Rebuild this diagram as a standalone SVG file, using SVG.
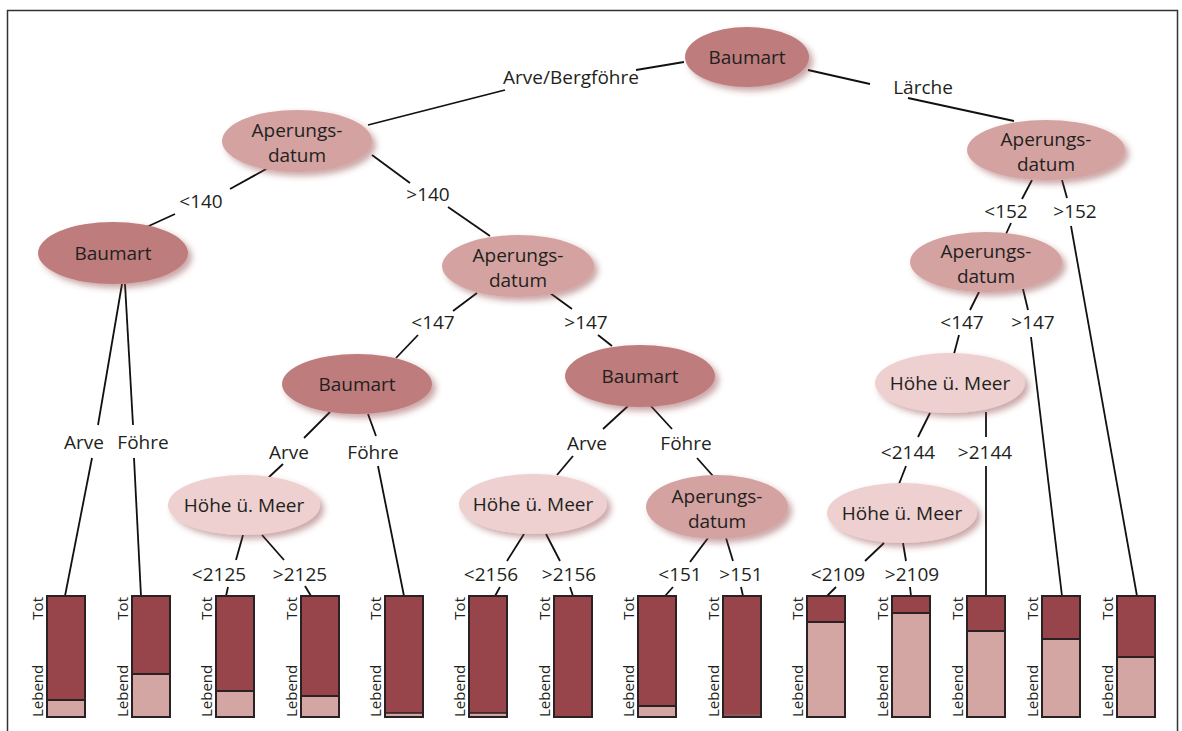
<svg xmlns="http://www.w3.org/2000/svg" width="1182" height="731" viewBox="0 0 1182 731">
<defs>
<filter id="sh" x="-20%" y="-20%" width="150%" height="160%">
<feGaussianBlur in="SourceAlpha" stdDeviation="3"/>
<feOffset dx="4" dy="4" result="b"/>
<feFlood flood-color="#8a3a3a" flood-opacity="0.45"/>
<feComposite in2="b" operator="in"/>
<feMerge><feMergeNode/><feMergeNode in="SourceGraphic"/></feMerge>
</filter>
</defs>
<style>
text{font-family:"Open Sans","Noto Sans","Liberation Sans",sans-serif;fill:#231f20}
.n{font-size:19px;text-anchor:middle}
.e{font-size:19px;text-anchor:middle}
.b{font-size:15px}
.t{text-anchor:end}
.baum{fill:#bf7c7c;filter:url(#sh)}
.aper{fill:#d4a3a1;filter:url(#sh)}
.hoehe{fill:#edd0cf;filter:url(#sh)}
.dark{fill:#97444a}
.light{fill:#d4a6a3}
.frame{fill:none;stroke:#2a2222;stroke-width:2}
#connectors line{stroke:#111;stroke-width:1.8}
</style>
<rect x="0" y="0" width="1182" height="731" fill="#fff"/>
<rect x="7.5" y="10.5" width="1170" height="740" fill="none" stroke="#333" stroke-width="1.5"/>

<g id="connectors">
<line x1="684" y1="62" x2="636" y2="70"/>
<line x1="505" y1="90" x2="368" y2="125"/>
<line x1="808" y1="70" x2="870" y2="84"/>
<line x1="908" y1="98" x2="1014" y2="121"/>
<line x1="268" y1="168" x2="230" y2="189"/>
<line x1="175" y1="214" x2="140" y2="230"/>
<line x1="372" y1="155" x2="410" y2="183"/>
<line x1="448" y1="207" x2="490" y2="236"/>
<line x1="122" y1="284" x2="98" y2="425"/>
<line x1="92" y1="458" x2="65" y2="596"/>
<line x1="125" y1="284" x2="133" y2="425"/>
<line x1="134" y1="458" x2="141" y2="596"/>
<line x1="477" y1="293" x2="453" y2="311"/>
<line x1="418" y1="335" x2="396" y2="358"/>
<line x1="550" y1="293" x2="572" y2="309"/>
<line x1="598" y1="335" x2="612" y2="346"/>
<line x1="330" y1="412" x2="304" y2="438"/>
<line x1="283" y1="464" x2="268" y2="478"/>
<line x1="368" y1="414" x2="376" y2="436"/>
<line x1="378" y1="466" x2="404" y2="596"/>
<line x1="243" y1="535" x2="236" y2="560"/>
<line x1="228" y1="587" x2="226" y2="596"/>
<line x1="262" y1="535" x2="284" y2="560"/>
<line x1="305" y1="586" x2="311" y2="596"/>
<line x1="628" y1="406" x2="603" y2="429"/>
<line x1="573" y1="456" x2="557" y2="475"/>
<line x1="650" y1="405" x2="672" y2="429"/>
<line x1="697" y1="458" x2="713" y2="476"/>
<line x1="524" y1="534" x2="507" y2="561"/>
<line x1="500" y1="587" x2="495" y2="596"/>
<line x1="546" y1="534" x2="560" y2="561"/>
<line x1="570" y1="587" x2="573" y2="596"/>
<line x1="708" y1="538" x2="690" y2="562"/>
<line x1="673" y1="587" x2="665" y2="596"/>
<line x1="726" y1="538" x2="733" y2="561"/>
<line x1="741" y1="587" x2="743" y2="596"/>
<line x1="1032" y1="180" x2="1022" y2="199"/>
<line x1="1011" y1="223" x2="1006" y2="234"/>
<line x1="1062" y1="180" x2="1067" y2="198"/>
<line x1="1071" y1="226" x2="1137" y2="596"/>
<line x1="979" y1="292" x2="970" y2="310"/>
<line x1="959" y1="335" x2="954" y2="354"/>
<line x1="1023" y1="289" x2="1028" y2="310"/>
<line x1="1031" y1="337" x2="1062" y2="596"/>
<line x1="930" y1="413" x2="918" y2="437"/>
<line x1="906" y1="466" x2="899" y2="484"/>
<line x1="986" y1="412" x2="986" y2="437"/>
<line x1="986" y1="466" x2="986" y2="596"/>
<line x1="884" y1="543" x2="865" y2="561"/>
<line x1="836" y1="587" x2="827" y2="596"/>
<line x1="903" y1="543" x2="906" y2="561"/>
<line x1="910" y1="587" x2="911" y2="596"/>
</g>

<g id="edge-labels">
<text class="e" x="571" y="84">Arve/Bergföhre</text>
<text class="e" x="923" y="94">Lärche</text>
<text class="e" x="201" y="208">&lt;140</text>
<text class="e" x="428" y="201">&gt;140</text>
<text class="e" x="1006" y="218">&lt;152</text>
<text class="e" x="1075" y="218">&gt;152</text>
<text class="e" x="433" y="329">&lt;147</text>
<text class="e" x="586" y="329">&gt;147</text>
<text class="e" x="962" y="329">&lt;147</text>
<text class="e" x="1033" y="329">&gt;147</text>
<text class="e" x="84" y="449">Arve</text>
<text class="e" x="143" y="449">Föhre</text>
<text class="e" x="289" y="459">Arve</text>
<text class="e" x="373" y="459">Föhre</text>
<text class="e" x="587" y="450">Arve</text>
<text class="e" x="686" y="450">Föhre</text>
<text class="e" x="908" y="459">&lt;2144</text>
<text class="e" x="985" y="459">&gt;2144</text>
<text class="e" x="219" y="581">&lt;2125</text>
<text class="e" x="300" y="581">&gt;2125</text>
<text class="e" x="491" y="581">&lt;2156</text>
<text class="e" x="569" y="581">&gt;2156</text>
<text class="e" x="680" y="581">&lt;151</text>
<text class="e" x="741" y="581">&gt;151</text>
<text class="e" x="838" y="581">&lt;2109</text>
<text class="e" x="912" y="581">&gt;2109</text>
</g>

<g id="n-root"><ellipse class="baum" cx="747" cy="57" rx="62" ry="30"/><text class="n" x="747" y="64">Baumart</text></g>
<g id="n-aper-l"><ellipse class="aper" cx="297" cy="141" rx="75" ry="31"/><text class="n" x="297" y="137">Aperungs-</text><text class="n" x="297" y="162">datum</text></g>
<g id="n-aper-r"><ellipse class="aper" cx="1046" cy="150" rx="79" ry="30"/><text class="n" x="1046" y="146">Aperungs-</text><text class="n" x="1046" y="171">datum</text></g>
<g id="n-baum-l"><ellipse class="baum" cx="113" cy="253" rx="75" ry="31"/><text class="n" x="113" y="260">Baumart</text></g>
<g id="n-aper-m"><ellipse class="aper" cx="518" cy="266" rx="76" ry="31"/><text class="n" x="518" y="262">Aperungs-</text><text class="n" x="518" y="287">datum</text></g>
<g id="n-aper-r2"><ellipse class="aper" cx="986" cy="262" rx="76" ry="30"/><text class="n" x="986" y="258">Aperungs-</text><text class="n" x="986" y="283">datum</text></g>
<g id="n-baum-ml"><ellipse class="baum" cx="357" cy="384" rx="75" ry="30"/><text class="n" x="357" y="391">Baumart</text></g>
<g id="n-baum-mr"><ellipse class="baum" cx="640" cy="376" rx="75" ry="31"/><text class="n" x="640" y="383">Baumart</text></g>
<g id="n-hoehe-r1"><ellipse class="hoehe" cx="950" cy="383" rx="75" ry="30"/><text class="n" x="950" y="390">Höhe ü. Meer</text></g>
<g id="n-hoehe-l"><ellipse class="hoehe" cx="244" cy="505" rx="76" ry="30"/><text class="n" x="244" y="512">Höhe ü. Meer</text></g>
<g id="n-hoehe-m"><ellipse class="hoehe" cx="533" cy="504" rx="74" ry="30"/><text class="n" x="533" y="511">Höhe ü. Meer</text></g>
<g id="n-aper-m2"><ellipse class="aper" cx="717" cy="507" rx="71" ry="32"/><text class="n" x="717" y="503">Aperungs-</text><text class="n" x="717" y="528">datum</text></g>
<g id="n-hoehe-r2"><ellipse class="hoehe" cx="902" cy="513" rx="75" ry="30"/><text class="n" x="902" y="520">Höhe ü. Meer</text></g>

<g id="leaf-1"><rect class="dark" x="47" y="596" width="38" height="121"/><rect class="light" x="47" y="700" width="38" height="17"/><line x1="47" y1="700" x2="85" y2="700" stroke="#2a2222" stroke-width="2"/><rect class="frame" x="47" y="596" width="38" height="121"/><text class="b t" transform="translate(43,597) rotate(-90)">Tot</text><text class="b" transform="translate(43,717) rotate(-90)">Lebend</text></g>
<g id="leaf-2"><rect class="dark" x="132" y="596" width="38" height="121"/><rect class="light" x="132" y="674" width="38" height="43"/><line x1="132" y1="674" x2="170" y2="674" stroke="#2a2222" stroke-width="2"/><rect class="frame" x="132" y="596" width="38" height="121"/><text class="b t" transform="translate(128,597) rotate(-90)">Tot</text><text class="b" transform="translate(128,717) rotate(-90)">Lebend</text></g>
<g id="leaf-3"><rect class="dark" x="216" y="596" width="38" height="121"/><rect class="light" x="216" y="691" width="38" height="26"/><line x1="216" y1="691" x2="254" y2="691" stroke="#2a2222" stroke-width="2"/><rect class="frame" x="216" y="596" width="38" height="121"/><text class="b t" transform="translate(212,597) rotate(-90)">Tot</text><text class="b" transform="translate(212,717) rotate(-90)">Lebend</text></g>
<g id="leaf-4"><rect class="dark" x="301" y="596" width="38" height="121"/><rect class="light" x="301" y="696" width="38" height="21"/><line x1="301" y1="696" x2="339" y2="696" stroke="#2a2222" stroke-width="2"/><rect class="frame" x="301" y="596" width="38" height="121"/><text class="b t" transform="translate(297,597) rotate(-90)">Tot</text><text class="b" transform="translate(297,717) rotate(-90)">Lebend</text></g>
<g id="leaf-5"><rect class="dark" x="385" y="596" width="38" height="121"/><rect class="light" x="385" y="713" width="38" height="4"/><line x1="385" y1="713" x2="423" y2="713" stroke="#2a2222" stroke-width="1.5"/><rect class="frame" x="385" y="596" width="38" height="121"/><text class="b t" transform="translate(381,597) rotate(-90)">Tot</text><text class="b" transform="translate(381,717) rotate(-90)">Lebend</text></g>
<g id="leaf-6"><rect class="dark" x="469" y="596" width="38" height="121"/><rect class="light" x="469" y="713" width="38" height="4"/><line x1="469" y1="713" x2="507" y2="713" stroke="#2a2222" stroke-width="1.5"/><rect class="frame" x="469" y="596" width="38" height="121"/><text class="b t" transform="translate(465,597) rotate(-90)">Tot</text><text class="b" transform="translate(465,717) rotate(-90)">Lebend</text></g>
<g id="leaf-7"><rect class="dark" x="554" y="596" width="38" height="121"/><rect class="frame" x="554" y="596" width="38" height="121"/><text class="b t" transform="translate(550,597) rotate(-90)">Tot</text><text class="b" transform="translate(550,717) rotate(-90)">Lebend</text></g>
<g id="leaf-8"><rect class="dark" x="638" y="596" width="38" height="121"/><rect class="light" x="638" y="706" width="38" height="11"/><line x1="638" y1="706" x2="676" y2="706" stroke="#2a2222" stroke-width="2"/><rect class="frame" x="638" y="596" width="38" height="121"/><text class="b t" transform="translate(634,597) rotate(-90)">Tot</text><text class="b" transform="translate(634,717) rotate(-90)">Lebend</text></g>
<g id="leaf-9"><rect class="dark" x="723" y="596" width="38" height="121"/><rect x="723" y="714" width="38" height="3" fill="#8c5a5c"/><rect class="frame" x="723" y="596" width="38" height="121"/><text class="b t" transform="translate(719,597) rotate(-90)">Tot</text><text class="b" transform="translate(719,717) rotate(-90)">Lebend</text></g>
<g id="leaf-10"><rect class="dark" x="807" y="596" width="38" height="121"/><rect class="light" x="807" y="622" width="38" height="95"/><line x1="807" y1="622" x2="845" y2="622" stroke="#2a2222" stroke-width="2"/><rect class="frame" x="807" y="596" width="38" height="121"/><text class="b t" transform="translate(803,597) rotate(-90)">Tot</text><text class="b" transform="translate(803,717) rotate(-90)">Lebend</text></g>
<g id="leaf-11"><rect class="dark" x="892" y="596" width="38" height="121"/><rect class="light" x="892" y="613" width="38" height="104"/><line x1="892" y1="613" x2="930" y2="613" stroke="#2a2222" stroke-width="2"/><rect class="frame" x="892" y="596" width="38" height="121"/><text class="b t" transform="translate(888,597) rotate(-90)">Tot</text><text class="b" transform="translate(888,717) rotate(-90)">Lebend</text></g>
<g id="leaf-12"><rect class="dark" x="967" y="596" width="38" height="121"/><rect class="light" x="967" y="631" width="38" height="86"/><line x1="967" y1="631" x2="1005" y2="631" stroke="#2a2222" stroke-width="2"/><rect class="frame" x="967" y="596" width="38" height="121"/><text class="b t" transform="translate(963,597) rotate(-90)">Tot</text><text class="b" transform="translate(963,717) rotate(-90)">Lebend</text></g>
<g id="leaf-13"><rect class="dark" x="1042" y="596" width="38" height="121"/><rect class="light" x="1042" y="639" width="38" height="78"/><line x1="1042" y1="639" x2="1080" y2="639" stroke="#2a2222" stroke-width="2"/><rect class="frame" x="1042" y="596" width="38" height="121"/><text class="b t" transform="translate(1038,597) rotate(-90)">Tot</text><text class="b" transform="translate(1038,717) rotate(-90)">Lebend</text></g>
<g id="leaf-14"><rect class="dark" x="1117" y="596" width="38" height="121"/><rect class="light" x="1117" y="657" width="38" height="60"/><line x1="1117" y1="657" x2="1155" y2="657" stroke="#2a2222" stroke-width="2"/><rect class="frame" x="1117" y="596" width="38" height="121"/><text class="b t" transform="translate(1113,597) rotate(-90)">Tot</text><text class="b" transform="translate(1113,717) rotate(-90)">Lebend</text></g>
</svg>
